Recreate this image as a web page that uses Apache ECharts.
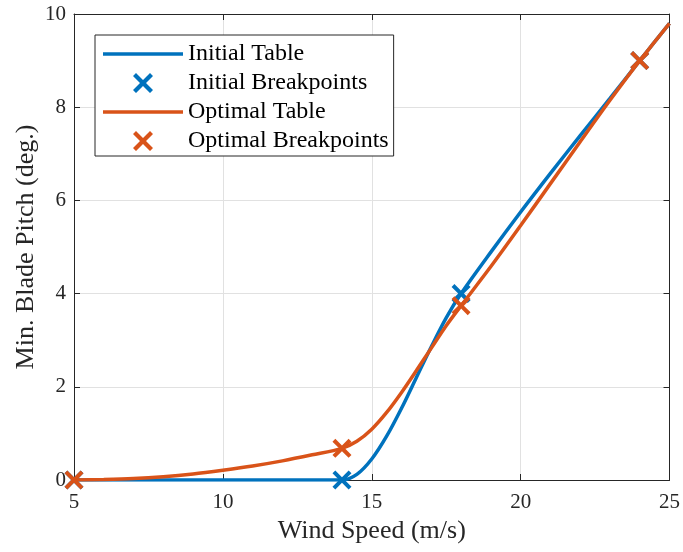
<!DOCTYPE html>
<html>
<head>
<meta charset="utf-8">
<script src="https://cdn.jsdelivr.net/npm/echarts@6/dist/echarts.min.js"></script>
<style>
html,body{margin:0;padding:0;background:#fff;}
#chart{width:683px;height:552px;}
</style>
</head>
<body>
<div id="chart"></div>
<script>
// Initial table curve
var initialX = [5, 8, 11, 14, 14.5, 15, 15.5, 16, 16.5, 17, 17.5, 18, 19, 20, 21, 22, 23, 24, 24.5, 25];
var initialY = [0, 0, 0, 0, 0.12, 0.45, 0.94, 1.54, 2.20, 2.86, 3.48, 4.0, 4.89, 5.75, 6.58, 7.39, 8.19, 9.0, 9.40, 9.8];
// Initial breakpoints
var initialBpX = [5, 14, 18, 24];
var initialBpY = [0, 0, 4, 9];
// Optimal table curve
var optimalX = [5, 6, 7, 8, 9, 10, 11, 12, 13, 14, 14.5, 15, 15.5, 16, 16.5, 17, 17.5, 18, 19, 20, 21, 22, 23, 24, 24.5, 25];
var optimalY = [0, 0.01, 0.03, 0.07, 0.13, 0.21, 0.30, 0.41, 0.54, 0.68, 0.83, 1.09, 1.45, 1.88, 2.35, 2.83, 3.31, 3.74, 4.58, 5.46, 6.36, 7.26, 8.15, 9.0, 9.40, 9.8];
// Optimal breakpoints
var optimalBpX = [5, 14, 18, 24];
var optimalBpY = [0, 0.68, 3.74, 9];
// Axis ticks
var xTicks = [5, 10, 15, 20, 25];
var yTicks = [0, 2, 4, 6, 8, 10];
var legendNames = ['Initial Table', 'Initial Breakpoints', 'Optimal Table', 'Optimal Breakpoints'];

function pairs(xs, ys) { return xs.map(function (x, i) { return [x, ys[i]]; }); }

var BLUE = '#0072BD', ORANGE = '#D95319', AX = '#262626';
var FONT = "'Liberation Serif', 'Times New Roman', serif";
var XSYM = 'path://M0,1.5L1.5,0L5,3.5L8.5,0L10,1.5L6.5,5L10,8.5L8.5,10L5,6.5L1.5,10L0,8.5L3.5,5Z';
var LINEICON = 'path://M0,0L80,0L80,3.5L0,3.5Z';

var chart = echarts.init(document.getElementById('chart'), null, {renderer: 'canvas'});

var baseX = {
  type: 'value', min: xTicks[0], max: xTicks[xTicks.length - 1], interval: xTicks[1] - xTicks[0],
  axisLine: {show: true, onZero: false, lineStyle: {color: AX, width: 1}},
  axisTick: {show: true, inside: true, length: 6, lineStyle: {color: AX}},
  splitLine: {show: false}
};
var baseY = {
  type: 'value', min: yTicks[0], max: yTicks[yTicks.length - 1], interval: yTicks[1] - yTicks[0],
  axisLine: {show: true, onZero: false, lineStyle: {color: AX, width: 1}},
  axisTick: {show: true, inside: true, length: 6, lineStyle: {color: AX}},
  splitLine: {show: false}
};

var option = {
  animation: false,
  backgroundColor: '#fff',
  grid: {left: 74, right: 13, top: 14, bottom: 72, containLabel: false},
  legend: {
    orient: 'vertical', left: 95, top: 35,
    data: [
      {name: legendNames[0], icon: LINEICON},
      {name: legendNames[1]},
      {name: legendNames[2], icon: LINEICON},
      {name: legendNames[3]}
    ],
    itemWidth: 80, itemHeight: 20, itemGap: 5, itemTextGap: 6,
    padding: [7, 5, 3, 8],
    borderColor: AX, borderWidth: 1, backgroundColor: '#fff',
    textStyle: {fontFamily: FONT, fontSize: 24, color: '#000'},
    symbolKeepAspect: true
  },
  xAxis: [
    Object.assign({}, baseX, {
      position: 'bottom',
      name: 'Wind Speed (m/s)', nameLocation: 'middle', nameGap: 38, nameMoveOverlap: false,
      nameTextStyle: {fontFamily: FONT, fontSize: 26, color: AX},
      axisLabel: {show: true, margin: 12, fontFamily: FONT, fontSize: 21, color: AX},
      splitLine: {show: true, lineStyle: {color: '#e1e1e1', width: 1}}
    }),
    Object.assign({}, baseX, {position: 'top', axisLabel: {show: false}})
  ],
  yAxis: [
    Object.assign({}, baseY, {
      position: 'left',
      name: 'Min. Blade Pitch (deg.)', nameLocation: 'middle', nameGap: 35, nameMoveOverlap: false,
      nameTextStyle: {fontFamily: FONT, fontSize: 26, color: AX},
      axisLabel: {show: true, margin: 8, fontFamily: FONT, fontSize: 21, color: AX},
      splitLine: {show: true, lineStyle: {color: '#e1e1e1', width: 1}}
    }),
    Object.assign({}, baseY, {position: 'right', axisLabel: {show: false}})
  ],
  series: [
    {
      name: legendNames[0], type: 'line', xAxisIndex: 0, yAxisIndex: 0,
      data: pairs(initialX, initialY), symbol: 'none', smooth: 0.3,
      lineStyle: {color: BLUE, width: 3.5}, itemStyle: {color: BLUE}, z: 2
    },
    {
      name: legendNames[1], type: 'scatter', xAxisIndex: 0, yAxisIndex: 0,
      data: pairs(initialBpX, initialBpY), symbol: XSYM, symbolSize: 19, symbolKeepAspect: true,
      itemStyle: {color: BLUE, opacity: 1}, z: 3
    },
    {
      name: legendNames[2], type: 'line', xAxisIndex: 0, yAxisIndex: 0,
      data: pairs(optimalX, optimalY), symbol: 'none', smooth: 0.3,
      lineStyle: {color: ORANGE, width: 3.5}, itemStyle: {color: ORANGE}, z: 4
    },
    {
      name: legendNames[3], type: 'scatter', xAxisIndex: 0, yAxisIndex: 0,
      data: pairs(optimalBpX, optimalBpY), symbol: XSYM, symbolSize: 19, symbolKeepAspect: true,
      itemStyle: {color: ORANGE, opacity: 1}, z: 5
    }
  ]
};
chart.setOption(option);
</script>
</body>
</html>
